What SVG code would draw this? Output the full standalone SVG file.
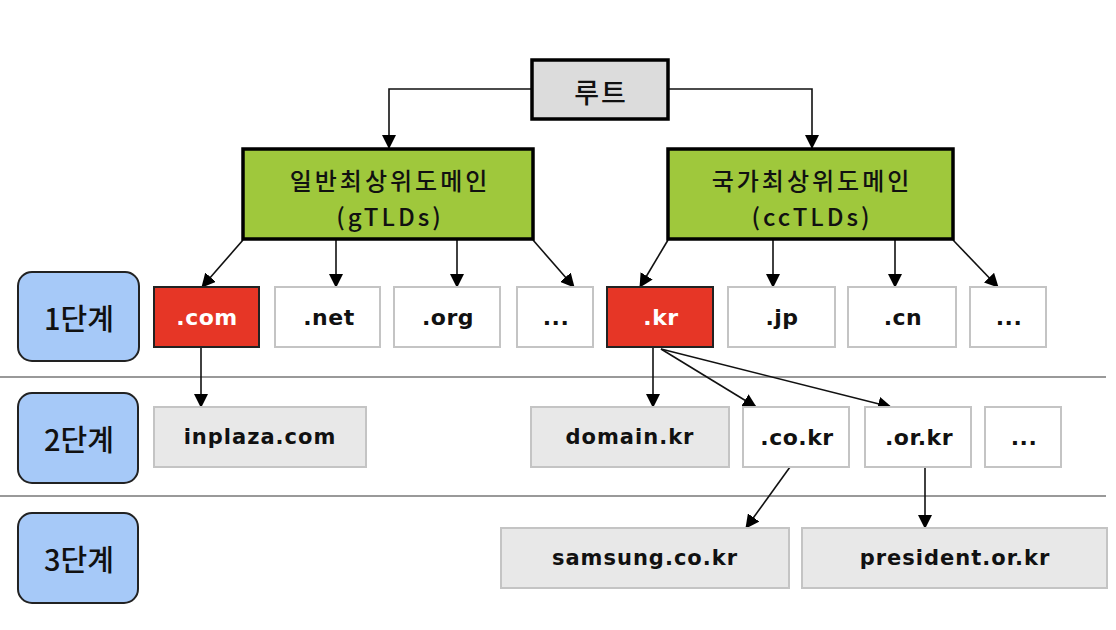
<svg xmlns="http://www.w3.org/2000/svg" width="1116" height="630" viewBox="0 0 1116 630">
<defs>
<marker id="ah" markerUnits="userSpaceOnUse" markerWidth="14" markerHeight="14" viewBox="0 0 14 14" refX="13" refY="7" orient="auto">
<path d="M0,0 L14,7 L0,14 Z" fill="#000"/>
</marker>
<style>
text{font-family:"Noto Sans CJK KR","Noto Sans",sans-serif;text-anchor:middle;dominant-baseline:central;fill:#111}
.lvl rect{fill:#a6c9f8;stroke:#222;stroke-width:2}
.lvl text{font-size:29px;font-weight:500}
.top rect{fill:#9fc83c;stroke:#000;stroke-width:3.5}
.top text{font-size:24px;font-weight:500;letter-spacing:3px}
.red rect{fill:#e63626;stroke:#222;stroke-width:2}
.red text{fill:#fff;font-size:22px;font-weight:bold;font-family:"DejaVu Sans",sans-serif;letter-spacing:0.5px}
.wht rect{fill:#fff;stroke:#c4c4c4;stroke-width:2}
.wht text{font-size:22px;font-weight:bold;font-family:"DejaVu Sans",sans-serif;letter-spacing:0.5px}
.gry rect{fill:#e8e8e8;stroke:#c4c4c4;stroke-width:2}
.gry text{font-size:21px;font-weight:bold;font-family:"DejaVu Sans",sans-serif;letter-spacing:1px}
.sep{stroke:#999;stroke-width:2}
#connectors path{fill:none;stroke:#111;stroke-width:1.6;marker-end:url(#ah)}
</style>
</defs>
<rect width="1116" height="630" fill="#fff"/>
<line class="sep" x1="0" y1="377" x2="1106" y2="377"/>
<line class="sep" x1="0" y1="496" x2="1106" y2="496"/>

<g id="connectors">
<path d="M531,89 H389 V148"/>
<path d="M668,89 H812 V148"/>
<path d="M243,240 L202,287"/>
<path d="M336,240 V287"/>
<path d="M457,240 V287"/>
<path d="M533,240 L574,287"/>
<path d="M668,240 L640,287"/>
<path d="M773,240 V287"/>
<path d="M895,240 V287"/>
<path d="M953,240 L998,287"/>
<path d="M201,347 V407"/>
<path d="M653,347 V407"/>
<path d="M661,349 L756,407"/>
<path d="M661,349 L891,407"/>
<path d="M790,467 L746,528"/>
<path d="M925,467 V528"/>
</g>

<g id="root"><rect x="532" y="60" width="136" height="59" fill="#dcdcdc" stroke="#000" stroke-width="3.5"/><text x="601" y="91" font-size="27" font-weight="500" letter-spacing="2">루트</text></g>
<g id="gtld" class="top"><rect x="243" y="149" width="290" height="90"/><text x="390" y="179">일반최상위도메인</text><text x="390" y="215">(gTLDs)</text></g>
<g id="cctld" class="top"><rect x="668" y="149" width="285" height="90"/><text x="812" y="179">국가최상위도메인</text><text x="812" y="215">(ccTLDs)</text></g>

<g id="lvl1" class="lvl"><rect x="18" y="272" width="121" height="89" rx="14"/><text x="79" y="317">1단계</text></g>
<g id="lvl2" class="lvl"><rect x="18" y="393" width="120" height="90" rx="14"/><text x="79" y="438">2단계</text></g>
<g id="lvl3" class="lvl"><rect x="18" y="513" width="120" height="90" rx="14"/><text x="79" y="558">3단계</text></g>

<g id="com" class="red"><rect x="154" y="287" width="105" height="60"/><text x="207" y="317">.com</text></g>
<g id="net" class="wht"><rect x="275" y="287" width="105" height="60"/><text x="329" y="317">.net</text></g>
<g id="org" class="wht"><rect x="394" y="287" width="106" height="60"/><text x="448" y="317">.org</text></g>
<g id="gdots" class="wht"><rect x="517" y="287" width="76" height="60"/><text x="556" y="317">...</text></g>
<g id="kr" class="red"><rect x="607" y="287" width="106" height="60"/><text x="661" y="317">.kr</text></g>
<g id="jp" class="wht"><rect x="728" y="287" width="107" height="60"/><text x="782" y="317">.jp</text></g>
<g id="cn" class="wht"><rect x="848" y="287" width="108" height="60"/><text x="903" y="317">.cn</text></g>
<g id="ccdots" class="wht"><rect x="970" y="287" width="76" height="60"/><text x="1009" y="317">...</text></g>

<g id="inplaza" class="gry"><rect x="154" y="407" width="212" height="60"/><text x="260" y="437">inplaza.com</text></g>
<g id="domainkr" class="gry"><rect x="531" y="407" width="198" height="60"/><text x="630" y="437">domain.kr</text></g>
<g id="cokr" class="wht"><rect x="743" y="407" width="106" height="60"/><text x="797" y="437">.co.kr</text></g>
<g id="orkr" class="wht"><rect x="865" y="407" width="106" height="60"/><text x="919" y="437">.or.kr</text></g>
<g id="krdots" class="wht"><rect x="985" y="407" width="76" height="60"/><text x="1024" y="437">...</text></g>

<g id="samsung" class="gry"><rect x="501" y="528" width="288" height="60"/><text x="645" y="558">samsung.co.kr</text></g>
<g id="president" class="gry"><rect x="802" y="528" width="305" height="60"/><text x="955" y="558">president.or.kr</text></g>
</svg>
